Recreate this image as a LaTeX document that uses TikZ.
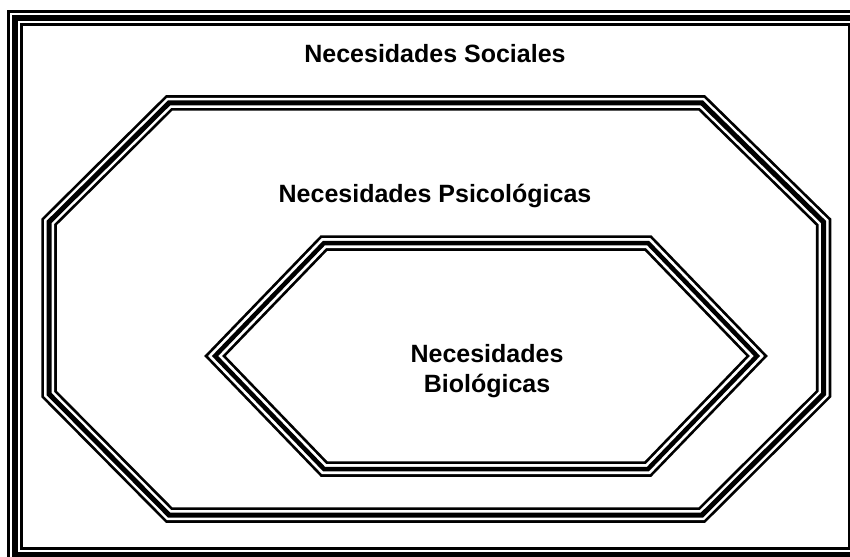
\documentclass[tikz,border=0pt]{standalone}
\usepackage{fontspec}
\setmainfont{Liberation Sans}
\usetikzlibrary{positioning}

\begin{document}
\begin{tikzpicture}[x=1pt, y=-1pt, line join=miter,
            triple/.style={preaction={draw=black,line width=15.5pt},preaction={draw=white,line width=10pt},draw=black,line width=#1},
            label/.style={font=\bfseries\fontsize{25}{30}\selectfont,align=center,anchor=base,inner sep=0pt}]

            \useasboundingbox (0,0) rectangle (850,556);
            \clip (0,0) rectangle (850,556);

            % outer frame
            \draw[triple=6pt] (15,18) rectangle (855.5,554.5);
            % octagon
            \draw[triple=5pt] (169,103) -- (702,103) -- (823.5,222) -- (823.5,394) -- (702,515) -- (169,515) -- (49,394) -- (49,222) -- cycle;
            % hexagon
            \draw[triple=4.5pt] (324,243) -- (648,243) -- (757,356) -- (648,469) -- (324,469) -- (215,356) -- cycle;

            \node[label] (social) at (435,63) {Necesidades Sociales};
            \node[label] (psico) at (435,202) {Necesidades Psicológicas};
            \node[label] (bio) at (487,392) {Necesidades\\Biológicas};
         \end{tikzpicture}
\end{document}
